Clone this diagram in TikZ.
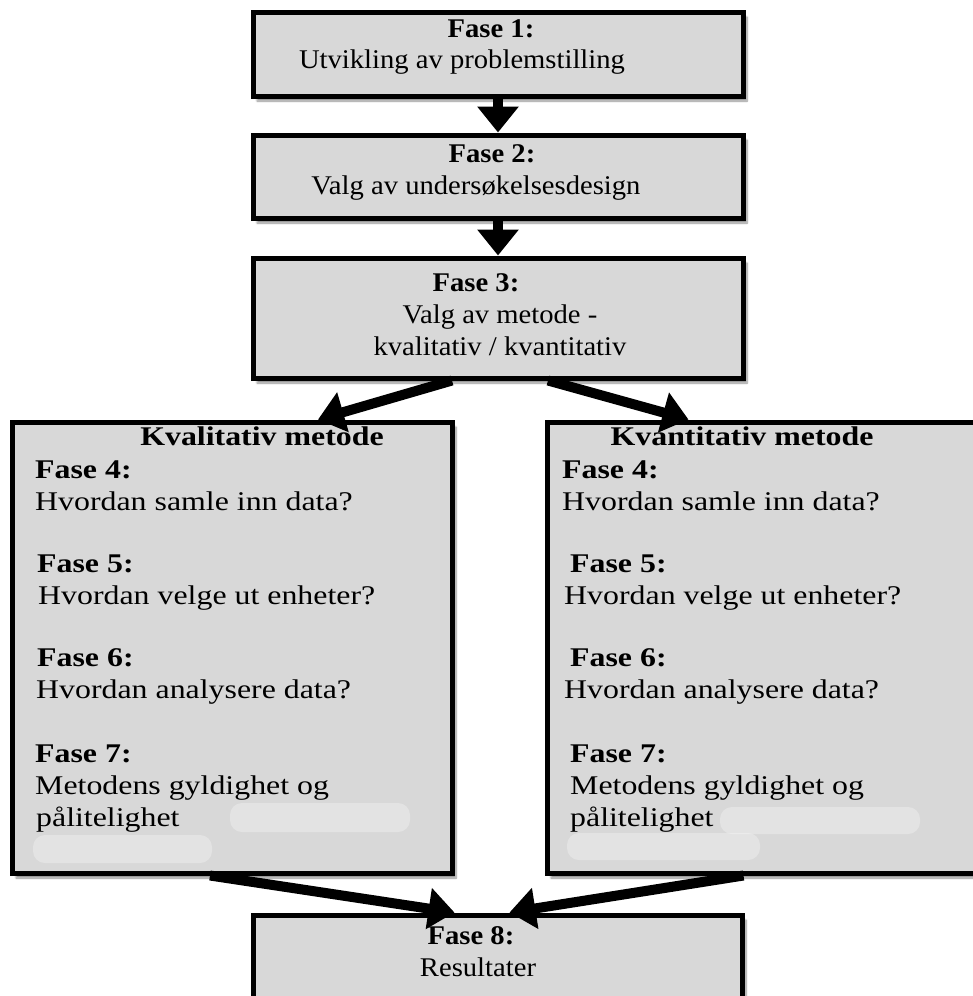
\documentclass[tikz,border=0pt]{standalone}
\usepackage{fontspec}
\setmainfont{Liberation Serif}
\newfontfamily\topfont[FakeStretch=1.06]{Liberation Serif}
\newfontfamily\sidefont[FakeStretch=1.18]{Liberation Serif}
\usetikzlibrary{arrows.meta,shadows.blur}
\definecolor{boxgray}{HTML}{D8D8D8}
\begin{document}
\begin{tikzpicture}[x=1pt,y=-1pt,
  box/.style={draw=black, line width=5pt, fill=boxgray, inner sep=0pt,
    blur shadow={shadow xshift=4pt, shadow yshift=-5pt,
      shadow blur steps=8, shadow opacity=45}},
  flow/.style={line width=10pt, -{Triangle[width=40pt,length=26pt]}},
  ttext/.style={inner sep=0pt, anchor=base, font=\topfont\fontsize{27}{31}\selectfont},
  stext/.style={inner sep=0pt, anchor=base west, font=\sidefont\fontsize{27}{32}\selectfont},
  shead/.style={inner sep=0pt, anchor=base, font=\sidefont\bfseries\fontsize{27}{32}\selectfont},
  scrape/.style={fill=white, opacity=0.3, rounded corners=12pt}
]
\useasboundingbox (0,0) rectangle (972,996);

% phase boxes
\node[box, minimum width=490pt, minimum height=84pt] (f1) at (498,54) {};
\node[box, minimum width=490pt, minimum height=83pt] (f2) at (498,176.5) {};
\node[box, minimum width=490pt, minimum height=120pt] (f3) at (498,318) {};
\node[box, minimum width=440pt, minimum height=451pt] (kval) at (232,647.5) {};
\node[box, minimum width=443pt, minimum height=451pt] (kvant) at (768.5,647.5) {};
\node[box, minimum width=489pt, minimum height=83pt] (f8) at (497.5,956.5) {};

% faded areas below the last lines
\fill[scrape] (230,803) rectangle (410,832);
\fill[scrape] (33,835) rectangle (212,863);
\fill[scrape] (720,807) rectangle (920,834);
\fill[scrape] (567,833) rectangle (760,860);

% texts of the top boxes
\node[ttext] (t1a) at (491,37) {\textbf{Fase 1:}};
\node[ttext] (t1b) at (462,68) {Utvikling av problemstilling};
\node[ttext] (t2a) at (492,162) {\textbf{Fase 2:}};
\node[ttext] (t2b) at (476,194) {Valg av undersøkelsesdesign};
\node[ttext] (t3a) at (476,291) {\textbf{Fase 3:}};
\node[ttext] (t3b) at (500,323) {Valg av metode -};
\node[ttext] (t3c) at (500,355) {kvalitativ / kvantitativ};

% qualitative method
\node[shead] (lh) at (262,445) {Kvalitativ metode};
\node[stext] (l4a) at (35,478) {\textbf{Fase 4:}};
\node[stext] (l4b) at (35,510) {Hvordan samle inn data?};
\node[stext] (l5a) at (37,572) {\textbf{Fase 5:}};
\node[stext] (l5b) at (38,604) {Hvordan velge ut enheter?};
\node[stext] (l6a) at (37,666) {\textbf{Fase 6:}};
\node[stext] (l6b) at (36,698) {Hvordan analysere data?};
\node[stext] (l7a) at (35,762) {\textbf{Fase 7:}};
\node[stext] (l7b) at (35,794) {Metodens gyldighet og};
\node[stext] (l7c) at (36,826) {pålitelighet};

% quantitative method
\node[shead] (rh) at (742,445) {Kvantitativ metode};
\node[stext] (r4a) at (562,478) {\textbf{Fase 4:}};
\node[stext] (r4b) at (562,510) {Hvordan samle inn data?};
\node[stext] (r5a) at (570,572) {\textbf{Fase 5:}};
\node[stext] (r5b) at (564,604) {Hvordan velge ut enheter?};
\node[stext] (r6a) at (570,666) {\textbf{Fase 6:}};
\node[stext] (r6b) at (564,698) {Hvordan analysere data?};
\node[stext] (r7a) at (570,762) {\textbf{Fase 7:}};
\node[stext] (r7b) at (570,794) {Metodens gyldighet og};
\node[stext] (r7c) at (570,826) {pålitelighet};

% results
\node[ttext] (t8a) at (471,944) {\textbf{Fase 8:}};
\node[ttext] (t8b) at (478,976) {Resultater};

% connectors
\draw[flow] (f1.south) -- (f2.north);
\draw[flow] (f2.south) -- (f3.north);
\draw[flow] ([xshift=-46pt]f3.south) -- ([xshift=86pt]kval.north);
\draw[flow] ([xshift=50pt]f3.south) -- ([xshift=-80pt]kvant.north);
\draw[flow] ([xshift=-22pt]kval.south) -- ([xshift=-43pt]f8.north);
\draw[flow] ([xshift=-25pt]kvant.south) -- ([xshift=12pt]f8.north);
\end{tikzpicture}
\end{document}
